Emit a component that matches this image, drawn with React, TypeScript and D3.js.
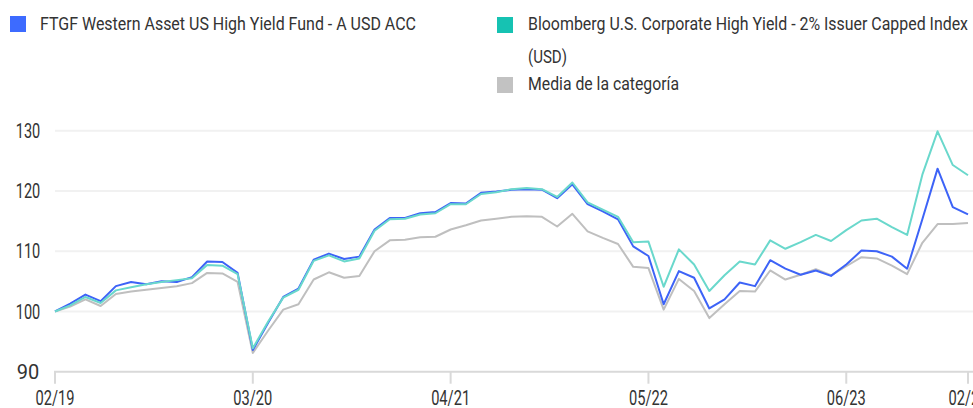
import React from 'react';
import * as d3 from 'd3';

const fund = [
  100, 101.3, 102.8, 101.7, 104.2, 104.9, 104.5, 105.0, 104.9, 105.7, 108.3, 108.2, 106.4,
  93.6, 98.1, 102.4, 103.8, 108.6, 109.6, 108.7, 109.1, 113.6, 115.5, 115.5, 116.3, 116.5,
  118.0, 117.9, 119.7, 119.9, 120.2, 120.3, 120.2, 118.8, 121.1, 117.8, 116.6, 115.3, 110.8,
  109.2, 101.2, 106.7, 105.6, 100.5, 102.0, 104.8, 104.2, 108.5, 107.1, 106.1, 106.8, 105.9,
  107.8, 110.1, 110.0, 109.1, 107.1, 115.3, 123.7, 117.3, 116.1,
];
const benchmark = [
  100, 101.0, 102.4, 101.4, 103.5, 104.0, 104.5, 104.9, 105.2, 105.5, 107.7, 107.6, 106.2,
  93.9, 98.3, 102.3, 103.6, 108.4, 109.3, 108.3, 108.8, 113.4, 115.3, 115.4, 116.1, 116.3,
  117.8, 117.8, 119.5, 119.8, 120.3, 120.5, 120.3, 119.0, 121.4, 118.1, 116.9, 115.7, 111.5,
  111.6, 104.1, 110.3, 107.8, 103.4, 106.0, 108.3, 107.8, 111.8, 110.4, 111.5, 112.7, 111.7,
  113.5, 115.1, 115.4, 114.0, 112.7, 122.7, 129.9, 124.3, 122.6,
];
const category = [
  100, 100.8, 102.0, 100.9, 102.9, 103.3, 103.6, 103.9, 104.2, 104.7, 106.4, 106.3, 104.9,
  93.1, 96.8, 100.3, 101.2, 105.3, 106.5, 105.6, 105.9, 110.0, 111.8, 111.9, 112.3, 112.4,
  113.6, 114.3, 115.1, 115.4, 115.7, 115.8, 115.7, 114.1, 116.2, 113.3, 112.2, 111.2, 107.4,
  107.2, 100.3, 105.4, 103.4, 98.9, 101.2, 103.4, 103.3, 106.8, 105.3, 106.1, 107.0, 106.0,
  107.5, 109.0, 108.8, 107.6, 106.2, 111.4, 114.5, 114.5, 114.7,
];

const xTickIndex = [0, 13, 26, 39, 52, 60];
const xTickLabels = ['02/19', '03/20', '04/21', '05/22', '06/23', '02/24'];
const yTicks = [90, 100, 110, 120, 130];

const legendFund = 'FTGF Western Asset US High Yield Fund - A USD ACC';
const legendBench = ['Bloomberg U.S. Corporate High Yield - 2% Issuer Capped Index', '(USD)'];
const legendCat = 'Media de la categoría';

const FONT = "Roboto, 'Noto Sans', sans-serif";

export default function App() {
  const W = 973;
  const H = 408;
  const x = d3.scaleLinear().domain([0, fund.length - 1]).range([55, 968]);
  const y = d3.scaleLinear().domain([90, 130]).range([371.7, 130.7]);
  const line = d3
    .line<number>()
    .x((_, i) => x(i))
    .y((d) => y(d));

  const textColor = '#333333';
  const adj = 'spacingAndGlyphs';

  return (
    <svg
      width={W}
      height={H}
      style={{ position: 'absolute', left: 0, top: 0, fontFamily: FONT }}
    >
      {/* legend */}
      <rect x={10} y={16} width={16} height={16} fill="#3d6bff" />
      <text x={40} y={30} fontSize={19} fill={textColor} textLength={376} lengthAdjust={adj}>
        {legendFund}
      </text>
      <rect x={497} y={17} width={16} height={16} fill="#16c2b2" />
      <text x={528} y={30} fontSize={19} fill={textColor} textLength={440} lengthAdjust={adj}>
        {legendBench[0]}
      </text>
      <text x={528} y={63} fontSize={19} fill={textColor} textLength={39} lengthAdjust={adj}>
        {legendBench[1]}
      </text>
      <rect x={497} y={77} width={16} height={16} fill="#c2c2c2" />
      <text x={528} y={90} fontSize={19} fill={textColor} textLength={151} lengthAdjust={adj}>
        {legendCat}
      </text>

      {/* grid */}
      {yTicks.filter((t) => t !== 90).map((t) => (
        <line key={t} x1={55} x2={W} y1={y(t)} y2={y(t)} stroke="#f1f1f1" strokeWidth={2} />
      ))}
      {yTicks.map((t) => (
        <text
          key={'l' + t}
          x={28}
          y={y(t)}
          dy="0.36em"
          textAnchor="middle"
          fontSize={20}
          fill={textColor}
          textLength={String(t).length === 3 ? 24.5 : 22.5}
          lengthAdjust={adj}
        >
          {t}
        </text>
      ))}

      {/* x axis */}
      <line x1={54} x2={W} y1={y(90)} y2={y(90)} stroke="#d9d9d9" strokeWidth={2} />
      {xTickIndex.map((idx, k) => (
        <g key={idx}>
          <line x1={x(idx)} x2={x(idx)} y1={y(90)} y2={y(90) + 12} stroke="#d9d9d9" strokeWidth={2} />
          <text
            x={x(idx)}
            y={405}
            textAnchor="middle"
            fontSize={20}
            fill={textColor}
            textLength={39}
            lengthAdjust={adj}
          >
            {xTickLabels[k]}
          </text>
        </g>
      ))}

      {/* lines */}
      <path d={line(category) || ''} fill="none" stroke="#bfbfbf" strokeWidth={2} strokeLinejoin="round" />
      <path d={line(fund) || ''} fill="none" stroke="#3d63f7" strokeWidth={2} strokeLinejoin="round" />
      <path d={line(benchmark) || ''} fill="none" stroke="#6ad8cc" strokeWidth={2} strokeLinejoin="round" />
    </svg>
  );
}
